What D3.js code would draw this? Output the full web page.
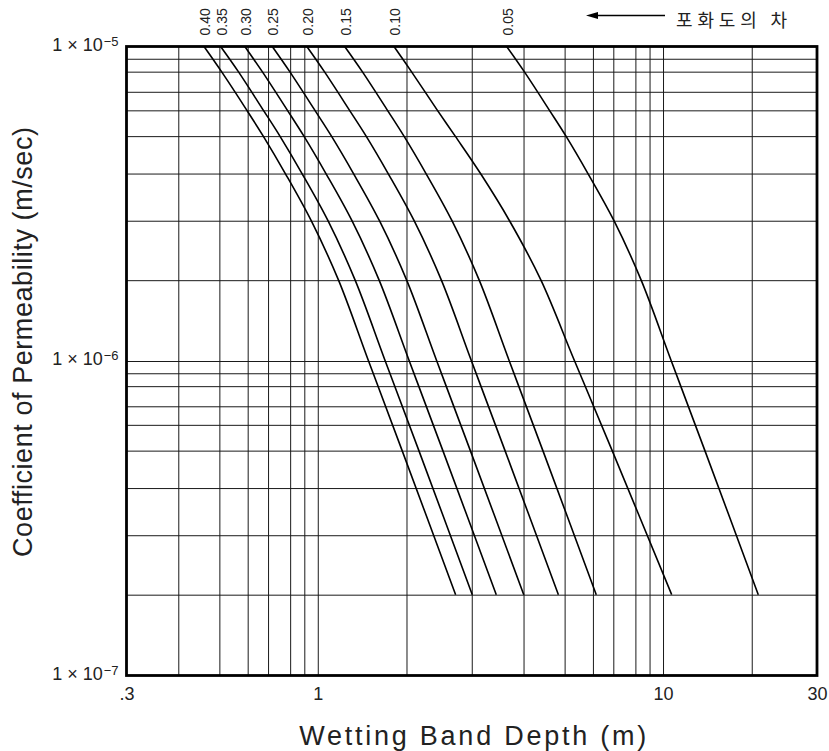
<!DOCTYPE html>
<html>
<head>
<meta charset="utf-8">
<script src="https://cdn.jsdelivr.net/npm/d3@7/dist/d3.min.js"></script>
<style>
	body { margin: 0; background: #fff; }
	svg { display: block; }
</style>
</head>
<body>
<div id="chart"></div>
<script>
// Saturation difference of each curve (labels along the top)
const saturationDiff = ['0.40', '0.35', '0.30', '0.25', '0.20', '0.15', '0.10', '0.05'];

const permeability = [1e-5, 8e-6, 6e-6, 5e-6, 4e-6, 3e-6, 2e-6, 1e-6, 5e-7, 2e-7];

// Wetting band depth (m) for each curve, one value per permeability level
const depth040 = [0.460, 0.507, 0.597, 0.675, 0.777, 0.950, 1.176, 1.487, 1.933, 2.714];
const depth035 = [0.504, 0.565, 0.676, 0.752, 0.883, 1.083, 1.339, 1.694, 2.160, 3.009];
const depth030 = [0.589, 0.670, 0.787, 0.897, 1.066, 1.306, 1.615, 2.035, 2.507, 3.438];
const depth025 = [0.718, 0.798, 0.978, 1.113, 1.322, 1.619, 2.002, 2.414, 2.974, 4.005];
const depth020 = [0.918, 1.053, 1.282, 1.459, 1.733, 2.097, 2.484, 2.995, 3.609, 4.834];
const depth015 = [1.234, 1.416, 1.724, 1.961, 2.258, 2.653, 3.127, 3.696, 4.443, 6.153];
const depth010 = [1.814, 2.062, 2.424, 2.707, 3.150, 3.700, 4.397, 5.332, 6.941, 10.70];
const depth005 = [3.642, 4.016, 4.605, 5.044, 5.811, 7.029, 8.393, 10.67, 13.87, 20.83];

// Grid lines and tick labels
const xGridValues = [0.4, 0.5, 0.6, 0.7, 0.8, 0.9, 1, 2, 3, 4, 5, 6, 7, 8, 9, 10, 20];
const yGridValues = [2e-7, 3e-7, 4e-7, 5e-7, 6e-7, 7e-7, 8e-7, 9e-7, 1e-6,
	2e-6, 3e-6, 4e-6, 5e-6, 6e-6, 7e-6, 8e-6, 9e-6];
const xTickValues = [0.3, 1, 10, 30];
const xTickLabels = ['.3', '1', '10', '30'];
const yTickValues = [1e-7, 1e-6, 1e-5];
const yTickExponents = ['\u22127', '\u22126', '\u22125'];

const depthSeries = [depth040, depth035, depth030, depth025, depth020, depth015, depth010, depth005];

// Layout
const width = 829, height = 751;
const plot = { left: 126.5, right: 817, top: 46.5, bottom: 675.5 };
const fontFamily = '"Liberation Sans", Arial, sans-serif';

// The printed log paper this chart sits on spaces 1..10 a little unevenly inside each decade
const paperFraction = [0, 0.257, 0.446, 0.596, 0.715, 0.797, 0.856, 0.920, 0.961];

const paperScale = function(lo, hi, range) {
	const knots = [];
	const positions = [];
	for (let d = Math.floor(Math.log10(lo)); d <= Math.ceil(Math.log10(hi)); d++) {
		for (let m = 1; m <= 9; m++) {
			const v = m * Math.pow(10, d);
			if (v >= lo * 0.999 && v <= hi * 1.001) {
				knots.push(v);
				positions.push(d + paperFraction[m - 1]);
			}
		}
	}
	const toPx = d3.scaleLinear().domain([positions[0], positions[positions.length - 1]]).range(range);
	return d3.scaleLog().domain(knots).range(positions.map(toPx));
};

const x = paperScale(0.3, 30, [plot.left, plot.right]);
const y = paperScale(1e-7, 1e-5, [plot.bottom, plot.top]);

const svg = d3.select('#chart').append('svg')
	.attr('width', width)
	.attr('height', height)
	.attr('font-family', fontFamily);

// Grid
const xGrid = svg.append('g')
	.attr('transform', `translate(0,${plot.bottom})`)
	.call(d3.axisBottom(x).tickValues(xGridValues).tickSize(-(plot.bottom - plot.top)).tickFormat(''));
const yGrid = svg.append('g')
	.attr('transform', `translate(${plot.left},0)`)
	.call(d3.axisLeft(y).tickValues(yGridValues).tickSize(-(plot.right - plot.left)).tickFormat(''));
[xGrid, yGrid].forEach(g => {
	g.select('.domain').remove();
	g.selectAll('line').attr('stroke', '#1a1a1a').attr('stroke-width', 1);
});

// Curves
const line = d3.line()
	.x(d => x(d[0]))
	.y(d => y(d[1]))
	.curve(d3.curveCatmullRom.alpha(0.5));

svg.append('g').selectAll('path')
	.data(depthSeries)
.join('path')
	.attr('d', s => line(s.map((v, i) => [v, permeability[i]])))
	.attr('fill', 'none')
	.attr('stroke', '#000')
	.attr('stroke-width', 1.6);

// Curve labels along the top
svg.append('g').selectAll('text')
	.data(depthSeries)
.join('text')
	.attr('transform', s => `translate(${x(s[0]) + 1},${plot.top - 11}) rotate(-90)`)
	.attr('dy', '0.35em')
	.attr('font-size', 14)
	.attr('fill', '#222')
	.text((s, i) => saturationDiff[i]);

// Frame
svg.append('rect')
	.attr('x', x(0.3))
	.attr('y', y(1e-5))
	.attr('width', x(30) - x(0.3))
	.attr('height', y(1e-7) - y(1e-5))
	.attr('fill', 'none')
	.attr('stroke', '#000')
	.attr('stroke-width', 2.8);

// X tick labels
const xAxis = svg.append('g')
	.attr('transform', `translate(0,${plot.bottom})`)
	.call(d3.axisBottom(x).tickValues(xTickValues).tickSize(0).tickPadding(12)
		.tickFormat((d, i) => xTickLabels[i]));
xAxis.select('.domain').remove();
xAxis.selectAll('text').attr('font-size', 18).attr('font-family', fontFamily).attr('fill', '#222');

// Y tick labels: 1 × 10^n
const yAxis = svg.append('g')
	.attr('transform', `translate(${plot.left},0)`)
	.call(d3.axisLeft(y).tickValues(yTickValues).tickSize(0).tickPadding(8).tickFormat(''));
yAxis.select('.domain').remove();
yAxis.selectAll('text')
	.attr('font-family', fontFamily)
	.attr('fill', '#222')
	.attr('dy', '0.36em')
	.each(function(d, i) {
		const t = d3.select(this);
		t.append('tspan').attr('font-size', 18).text('1 \u00d7 10');
		t.append('tspan').attr('font-size', 13).attr('dy', -5).attr('dx', 1).text(yTickExponents[i]);
	});

// Axis titles
svg.append('text')
	.attr('x', (plot.left + plot.right) / 2 + 1)
	.attr('y', 745)
	.attr('text-anchor', 'middle')
	.attr('font-size', 27)
	.attr('fill', '#222')
	.attr('textLength', 347)
	.attr('lengthAdjust', 'spacing')
	.text('Wetting Band Depth (m)');

svg.append('text')
	.attr('transform', `translate(32,${(plot.top + plot.bottom) / 2 - 19}) rotate(-90)`)
	.attr('text-anchor', 'middle')
	.attr('font-size', 27)
	.attr('fill', '#222')
	.attr('textLength', 430)
	.attr('lengthAdjust', 'spacing')
	.text('Coefficient of Permeability (m/sec)');

// Arrow note: difference in degree of saturation
const note = svg.append('g');
note.append('line')
	.attr('x1', 595).attr('x2', 665)
	.attr('y1', 15.5).attr('y2', 15.5)
	.attr('stroke', '#000')
	.attr('stroke-width', 1.3);
note.append('path')
	.attr('d', 'M586,15.5 L598,12 L598,19 Z')
	.attr('fill', '#000');
note.append('text')
	.attr('x', 676)
	.attr('y', 27)
	.attr('font-family', '"Noto Sans CJK KR", sans-serif')
	.attr('font-size', 18)
	.attr('fill', '#222')
	.attr('textLength', 111)
	.attr('lengthAdjust', 'spacing')
	.text('포화도의 차');
</script>
</body>
</html>
